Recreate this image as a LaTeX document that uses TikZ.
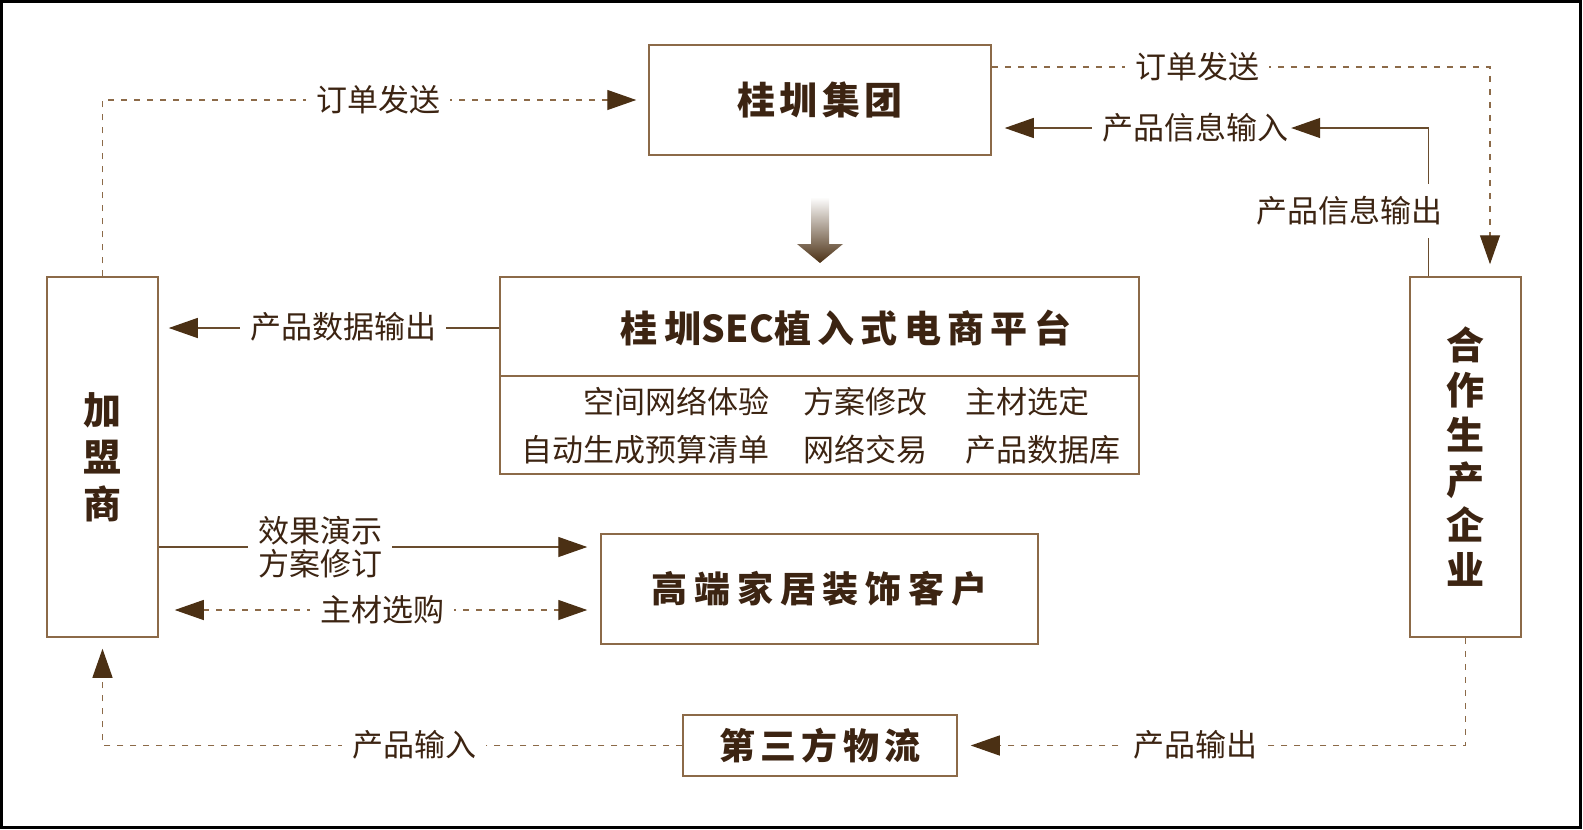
\documentclass[tikz,border=0pt]{standalone}
\usepackage{fontspec}
\setmainfont{Noto Sans CJK SC}
\definecolor{boxcol}{RGB}{140,106,72}
\definecolor{txtcol}{RGB}{60,36,18}
\definecolor{tipcol}{RGB}{75,48,20}
\definecolor{linecol}{RGB}{105,76,46}
\usetikzlibrary{arrows.meta}

\begin{document}
\begin{tikzpicture}[x=1pt,y=-1pt,
    every node/.style={text=txtcol},
    box/.style={draw=boxcol,line width=1.5pt,inner sep=0pt,align=center},
    head/.style={font=\bfseries\fontsize{38}{47}\selectfont\addfontfeature{LetterSpace=12}},
    lbl/.style={fill=white,font=\fontsize{31}{33}\selectfont,inner xsep=10pt,inner ysep=2pt,align=center},
    item/.style={font=\fontsize{31}{33}\selectfont,inner sep=0pt},
    flow/.style={draw=linecol,line width=1.3pt},
    dflow/.style={draw=boxcol,line width=1.3pt,dash pattern=on 6pt off 7pt},
    >={Triangle[length=29pt,width=20pt,color=tipcol]}
    ]

    \useasboundingbox (0,0) rectangle (1583,830);
    \draw[line width=3pt] (1.5,1.5) rectangle (1580.5,827.5);

    \node (group) [box,head,minimum width=342pt,minimum height=110pt] at (820,100) {桂圳集团};
    \node (sec) [box,minimum width=639pt,minimum height=197pt] at (819.5,375.5) {};
    \node (sectitle) [head,font=\bfseries\fontsize{37}{44}\selectfont\addfontfeature{LetterSpace=17}] at (846,328) {桂圳{\addfontfeature{LetterSpace=2}SEC}植入式电商平台};
    \coordinate (divy) at (0,376);
    \draw[draw=boxcol,line width=1.5pt] (sec.west |- divy) -- (sec.east |- divy);
    \node (i1) [item,anchor=east] at (770,402) {空间网络体验};
    \node (i2) [item,anchor=west] at (803,402) {方案修改};
    \node (i3) [item,anchor=west] at (965,402) {主材选定};
    \node (i4) [item,anchor=east] at (770,450) {自动生成预算清单};
    \node (i5) [item,anchor=west] at (803,450) {网络交易};
    \node (i6) [item,anchor=west] at (965,450) {产品数据库};

    \node (franchise) [box,head,minimum width=111pt,minimum height=360pt] at (102.5,457) {加\\盟\\商};
    \node (partner) [box,head,font=\bfseries\fontsize{38}{45}\selectfont,minimum width=111pt,minimum height=360pt] at (1465.5,457) {合\\作\\生\\产\\企\\业};
    \node (client) [box,head,font=\bfseries\fontsize{36}{44}\selectfont\addfontfeature{LetterSpace=19},minimum width=437pt,minimum height=110pt] at (819.5,589) {高端家居装饰客户};
    \node (logistics) [box,head,font=\bfseries\fontsize{36}{44}\selectfont\addfontfeature{LetterSpace=15},minimum width=274pt,minimum height=61pt] at (820,745.5) {第三方物流};

    % shaded arrow down to the platform
    \shade[top color=white,middle color=boxcol,bottom color=tipcol] (811,197) -- (829,197) -- (829,244) -- (843,244) -- (820,263) -- (797,244) -- (811,244) -- cycle;

    % the edges
    \draw[dflow,->,shorten >=12pt] (franchise.north) |- (group.west);
    \node (order1) [lbl] at (378,100) {订单发送};
    \draw[dflow,->,shorten >=12pt] ([yshift=33pt]group.east) -| ([xshift=24.5pt]partner.north);
    \node (order2) [lbl] at (1197,67) {订单发送};

    \node (infoin) [lbl,inner xsep=3pt] at (1195,128) {产品信息输入};
    \draw[flow,->] ([xshift=-37pt]partner.north) |- (infoin.east);
    \draw[flow,->,shorten <=7pt,shorten >=13pt] (infoin.west) -- (infoin.west -| group.east);
    \node (infoout) [lbl,inner ysep=12pt] at (1349,211) {产品信息输出};

    \draw[flow,->,shorten >=10pt] (sec.west |- sectitle) -- (franchise.east |- sectitle);
    \node (dataout) [lbl] at (343,327) {产品数据输出};

    \coordinate (demo) at (0,547);
    \draw[flow,->,shorten >=13pt] (franchise.east |- demo) -- (client.west |- demo);
    \node (demolbl) [lbl] at (320,547) {效果演示\\方案修订};

    \coordinate (buy) at (0,610);
    \draw[dflow,<->,shorten <=16pt,shorten >=13pt] (franchise.east |- buy) -- (client.west |- buy);
    \node (buylbl) [lbl] at (382,610) {主材选购};

    \draw[dflow,->,shorten >=13pt] (partner.south) |- (logistics.east);
    \node (prodout) [lbl] at (1195,745) {产品输出};
    \draw[dflow,->,shorten >=11pt] (logistics.west) -| (franchise.south);
    \node (prodin) [lbl] at (414,745) {产品输入};
\end{tikzpicture}
\end{document}
